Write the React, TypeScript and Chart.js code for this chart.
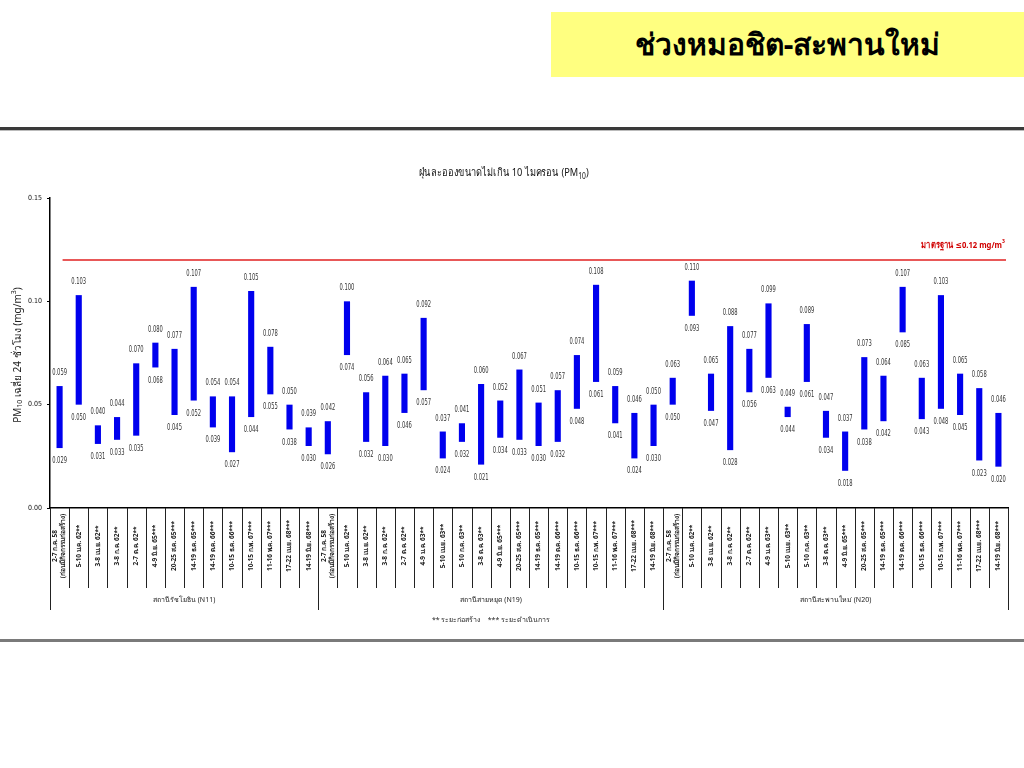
import React, { useEffect, useRef } from "react";
import { Chart, registerables } from "chart.js";

Chart.register(...registerables);

const PAGE_TITLE = "ช่วงหมอชิต-สะพานใหม่";
const CHART_TITLE = "ฝุ่นละอองขนาดไม่เกิน 10 ไมครอน (PM";
const Y_TITLE_PARTS = ["PM", "10", " เฉลี่ย 24 ชั่วโมง (mg/m", "3", ")"];
const STANDARD_VALUE = 0.12;
const STANDARD_LABEL = "มาตรฐาน ≤0.12 mg/m";
const LEGEND_TEXT = "** ระยะก่อสร้าง    *** ระยะดำเนินการ";

const STATIONS = ["สถานีรัชโยธิน (N11)", "สถานีสายหยุด (N19)", "สถานีสะพานใหม่ (N20)"];

const LABELS_N11 = [
  "2-7 ก.ค. 58\n(ก่อนมีกิจกรรมก่อสร้าง)",
  "5-10 ม.ค. 62**",
  "3-8 เม.ย. 62**",
  "3-8 ก.ค. 62**",
  "2-7 ต.ค. 62**",
  "4-9 มิ.ย. 65***",
  "20-25 ส.ค. 65***",
  "14-19 ธ.ค. 65***",
  "14-19 ต.ค. 66***",
  "10-15 ธ.ค. 66***",
  "10-15 ก.พ. 67***",
  "11-16 พ.ค. 67***",
  "17-22 เม.ย. 68***",
  "14-19 มิ.ย. 68***",
];

const LABELS_N19 = [
  "2-7 ก.ค. 58\n(ก่อนมีกิจกรรมก่อสร้าง)",
  "5-10 ม.ค. 62**",
  "3-8 เม.ย. 62**",
  "3-8 ก.ค. 62**",
  "2-7 ต.ค. 62**",
  "4-9 ม.ค. 63**",
  "5-10 เม.ย. 63**",
  "5-10 ก.ค. 63**",
  "3-8 ต.ค. 63**",
  "4-9 มิ.ย. 65***",
  "20-25 ส.ค. 65***",
  "14-19 ธ.ค. 65***",
  "14-19 ต.ค. 66***",
  "10-15 ธ.ค. 66***",
  "10-15 ก.พ. 67***",
  "11-16 พ.ค. 67***",
  "17-22 เม.ย. 68***",
  "14-19 มิ.ย. 68***",
];

const LABELS_N20 = [...LABELS_N19];

const MAX_N11 = [0.059, 0.103, 0.04, 0.044, 0.07, 0.08, 0.077, 0.107, 0.054, 0.054, 0.105, 0.078, 0.05, 0.039];
const MIN_N11 = [0.029, 0.05, 0.031, 0.033, 0.035, 0.068, 0.045, 0.052, 0.039, 0.027, 0.044, 0.055, 0.038, 0.03];

const MAX_N19 = [0.042, 0.1, 0.056, 0.064, 0.065, 0.092, 0.037, 0.041, 0.06, 0.052, 0.067, 0.051, 0.057, 0.074, 0.108, 0.059, 0.046, 0.05];
const MIN_N19 = [0.026, 0.074, 0.032, 0.03, 0.046, 0.057, 0.024, 0.032, 0.021, 0.034, 0.033, 0.03, 0.032, 0.048, 0.061, 0.041, 0.024, 0.03];

const MAX_N20 = [0.063, 0.11, 0.065, 0.088, 0.077, 0.099, 0.049, 0.089, 0.047, 0.037, 0.073, 0.064, 0.107, 0.063, 0.103, 0.065, 0.058, 0.046];
const MIN_N20 = [0.05, 0.093, 0.047, 0.028, 0.056, 0.063, 0.044, 0.061, 0.034, 0.018, 0.038, 0.042, 0.085, 0.043, 0.048, 0.045, 0.023, 0.02];

const Y_TICKS = [0, 0.05, 0.1, 0.15];

const CATEGORIES = [...LABELS_N11, ...LABELS_N19, ...LABELS_N20];
const MAXS = [...MAX_N11, ...MAX_N19, ...MAX_N20];
const MINS = [...MIN_N11, ...MIN_N19, ...MIN_N20];
const GROUP_SIZES = [LABELS_N11.length, LABELS_N19.length, LABELS_N20.length];

const FONT = "Tahoma, 'Noto Sans', 'DejaVu Sans', sans-serif";
const NUM_FONT = "'DejaVu Sans Condensed', 'Liberation Sans Narrow', sans-serif";

function fillScaled(ctx: CanvasRenderingContext2D, text: string, x: number, y: number, sx: number) {
  ctx.save();
  ctx.translate(x, y);
  ctx.scale(sx, 1);
  ctx.fillText(text, 0, 0);
  ctx.restore();
}

const drawPlugin = {
  id: "customDraw",
  afterDraw(chart: any) {
    const ctx = chart.ctx as CanvasRenderingContext2D;
    const xs = chart.scales.x;
    const ys = chart.scales.y;
    const area = chart.chartArea;
    const n = CATEGORIES.length;
    ctx.save();

    // data labels
    ctx.fillStyle = "#333";
    ctx.font = `8px ${NUM_FONT}`;
    ctx.textAlign = "center";
    ctx.textBaseline = "middle";
    for (let i = 0; i < n; i++) {
      const x = xs.getPixelForValue(i);
      const yTop = ys.getPixelForValue(MAXS[i]);
      const yBot = ys.getPixelForValue(MINS[i]);
      fillScaled(ctx, MAXS[i].toFixed(3), x, yTop - 13, 0.72);
      fillScaled(ctx, MINS[i].toFixed(3), x, yBot + 13, 0.72);
    }

    // standard line
    const ys12 = ys.getPixelForValue(STANDARD_VALUE);
    ctx.strokeStyle = "#E02020";
    ctx.lineWidth = 1.5;
    ctx.beginPath();
    ctx.moveTo(xs.getPixelForValue(0) + 3, ys12);
    ctx.lineTo(area.right - 2, ys12);
    ctx.stroke();

    // standard label
    ctx.fillStyle = "#D00000";
    ctx.textAlign = "right";
    ctx.textBaseline = "alphabetic";
    const supX = area.right - 3;
    ctx.font = `bold 6px ${FONT}`;
    fillScaled(ctx, "3", supX, ys12 - 17, 0.85);
    const supW = ctx.measureText("3").width * 0.85;
    ctx.font = `bold 9px ${FONT}`;
    fillScaled(ctx, STANDARD_LABEL, supX - supW, ys12 - 12, 0.85);

    // category separators
    const half = (xs.getPixelForValue(1) - xs.getPixelForValue(0)) / 2;
    const groupStarts = new Set<number>();
    let acc = 0;
    groupStarts.add(0);
    GROUP_SIZES.forEach((g) => {
      acc += g;
      groupStarts.add(acc);
    });
    ctx.strokeStyle = "#222";
    ctx.lineWidth = 1;
    for (let i = 0; i <= n; i++) {
      const xb = i < n ? xs.getPixelForValue(i) - half : xs.getPixelForValue(n - 1) + half;
      const xr = Math.round(xb) + 0.5;
      ctx.beginPath();
      ctx.moveTo(xr, area.bottom);
      ctx.lineTo(xr, area.bottom + (groupStarts.has(i) ? 102 : 80));
      ctx.stroke();
    }

    // category labels (rotated)
    ctx.fillStyle = "#222";
    ctx.font = `bold 6.5px ${FONT}`;
    ctx.textAlign = "center";
    ctx.textBaseline = "middle";
    for (let i = 0; i < n; i++) {
      const lines = CATEGORIES[i].split("\n");
      const x = xs.getPixelForValue(i);
      const lh = 8;
      ctx.save();
      ctx.translate(x, area.bottom + 38);
      ctx.rotate(-Math.PI / 2);
      lines.forEach((ln, k) => {
        ctx.fillText(ln, 0, (k - (lines.length - 1) / 2) * lh);
      });
      ctx.restore();
    }

    // group labels
    ctx.font = `7px ${FONT}`;
    ctx.fillStyle = "#222";
    let start = 0;
    GROUP_SIZES.forEach((g, gi) => {
      const x0 = xs.getPixelForValue(start) - half;
      const x1 = xs.getPixelForValue(start + g - 1) + half;
      ctx.fillText(STATIONS[gi], (x0 + x1) / 2, area.bottom + 92);
      start += g;
    });

    // legend note
    ctx.font = `7px ${FONT}`;
    ctx.fillText(LEGEND_TEXT, 491, area.bottom + 112);

    // chart title (condensed)
    const sx = 0.84;
    ctx.fillStyle = "#111";
    ctx.textAlign = "left";
    ctx.textBaseline = "alphabetic";
    const tY = area.top - 22;
    ctx.font = `8px ${FONT}`;
    const subW = ctx.measureText("10").width * sx;
    ctx.font = `11px ${FONT}`;
    const mainW = ctx.measureText(CHART_TITLE).width * sx;
    const closeW = ctx.measureText(")").width * sx;
    const total = mainW + subW + closeW;
    let tx = 504 - total / 2;
    fillScaled(ctx, CHART_TITLE, tx, tY, sx);
    tx += mainW;
    ctx.font = `8px ${FONT}`;
    fillScaled(ctx, "10", tx, tY + 3, sx);
    tx += subW;
    ctx.font = `11px ${FONT}`;
    fillScaled(ctx, ")", tx, tY, sx);

    // y title rotated
    ctx.save();
    ctx.translate(18, (area.top + area.bottom) / 2 + 2);
    ctx.rotate(-Math.PI / 2);
    const parts = Y_TITLE_PARTS.map((p, k) => ({
      text: p,
      font: k === 1 || k === 3 ? `7px ${FONT}` : `10px ${FONT}`,
      dy: k === 1 ? 2 : k === 3 ? -4 : 0,
    }));
    let w = 0;
    parts.forEach((p) => {
      ctx.font = p.font;
      w += ctx.measureText(p.text).width;
    });
    let px = -w / 2;
    ctx.fillStyle = "#222";
    ctx.textBaseline = "middle";
    parts.forEach((p) => {
      ctx.font = p.font;
      ctx.fillText(p.text, px, p.dy);
      px += ctx.measureText(p.text).width;
    });
    ctx.restore();

    ctx.restore();
  },
};

export default function App() {
  const ref = useRef<HTMLCanvasElement | null>(null);

  useEffect(() => {
    if (!ref.current) return;
    const chart = new Chart(ref.current, {
      type: "bar",
      data: {
        labels: CATEGORIES,
        datasets: [
          {
            label: "PM10",
            data: MINS.map((m, i) => [m, MAXS[i]]) as any,
            backgroundColor: "#0000EE",
            borderWidth: 0,
            barPercentage: 0.32,
            categoryPercentage: 1,
          },
        ],
      },
      options: {
        responsive: false,
        animation: false,
        devicePixelRatio: 1,
        layout: { padding: { top: 58, right: 16, left: 0, bottom: 0 } },
        plugins: {
          legend: { display: false },
          tooltip: { enabled: false },
          title: { display: false },
        },
        scales: {
          x: {
            type: "category",
            offset: true,
            grid: { display: false },
            ticks: { display: false },
            border: { display: true, color: "#000", width: 1.5 },
            afterFit: (s: any) => {
              s.height = 132;
            },
          },
          y: {
            min: 0,
            max: 0.15,
            afterBuildTicks: (s: any) => {
              s.ticks = Y_TICKS.map((v) => ({ value: v }));
            },
            ticks: {
              callback: (v: any) => Number(v).toFixed(2),
              font: { size: 7, family: NUM_FONT },
              color: "#111",
              padding: 5,
            },
            grid: { drawOnChartArea: false, tickLength: 3, color: "#000" },
            border: { color: "#000", width: 1.5 },
            afterFit: (s: any) => {
              s.width = 50;
            },
          },
        },
      },
      plugins: [drawPlugin],
    });
    return () => chart.destroy();
  }, []);

  return (
    <div
      style={{
        position: "absolute",
        left: 0,
        top: 0,
        width: 1024,
        height: 768,
        background: "#fff",
        overflow: "hidden",
      }}
    >
      <div
        style={{
          position: "absolute",
          left: 551,
          top: 12,
          width: 473,
          height: 65,
          background: "#FFFF80",
          display: "flex",
          alignItems: "center",
          justifyContent: "center",
          fontFamily: FONT,
          fontWeight: "bold",
          fontSize: 30,
          color: "#000",
        }}
      >
        {PAGE_TITLE}
      </div>
      <div style={{ position: "absolute", left: 0, top: 127, width: 1024, height: 3, background: "#3a3a3a" }} />
      <div style={{ position: "absolute", left: 0, top: 130, width: 1024, height: 1, background: "#bbb" }} />
      <canvas ref={ref} width={1024} height={500} style={{ position: "absolute", left: 0, top: 140 }} />
      <div style={{ position: "absolute", left: 0, top: 639, width: 1024, height: 3, background: "#7a7a7a" }} />
    </div>
  );
}
